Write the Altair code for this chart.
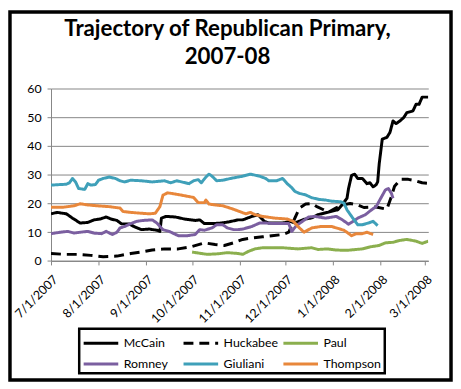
import altair as alt
import pandas as pd

candidates = ["McCain", "Huckabee", "Paul", "Romney", "Giuliani", "Thompson"]
colors = ["#000000", "#000000", "#8BAF4E", "#7B5FA0", "#3FA0B9", "#E8873B"]
dashes = [[1, 0], [10, 6], [1, 0], [1, 0], [1, 0], [1, 0]]
title_lines = ["Trajectory of Republican Primary,", "2007-08"]

mccain_dates = ["2007-07-01", "2007-07-05", "2007-07-11", "2007-07-15", "2007-07-20", "2007-07-25",
                "2007-07-29", "2007-08-02", "2007-08-06", "2007-08-09", "2007-08-13", "2007-08-16",
                "2007-08-21", "2007-08-24", "2007-08-29", "2007-09-03", "2007-09-08", "2007-09-10",
                "2007-09-11", "2007-09-14", "2007-09-20", "2007-09-26", "2007-10-03", "2007-10-06",
                "2007-10-09", "2007-10-14", "2007-10-20", "2007-10-25", "2007-10-31", "2007-11-03",
                "2007-11-09", "2007-11-13", "2007-11-17", "2007-11-20", "2007-11-29", "2007-12-04",
                "2007-12-07", "2007-12-13", "2007-12-18", "2007-12-22", "2007-12-29", "2008-01-04",
                "2008-01-07", "2008-01-10", "2008-01-11", "2008-01-13", "2008-01-15", "2008-01-17",
                "2008-01-20", "2008-01-23", "2008-01-25", "2008-01-27", "2008-01-29", "2008-01-30",
                "2008-01-31", "2008-02-02", "2008-02-05", "2008-02-07", "2008-02-09", "2008-02-11",
                "2008-02-13", "2008-02-16", "2008-02-18", "2008-02-22", "2008-02-24", "2008-02-26",
                "2008-02-28", "2008-03-03"]
mccain_values = [16.4, 16.9, 16.4, 14.9, 13.2, 13.4, 14.3, 14.6, 15.3, 14.6, 14.1, 12.9,
                 12.9, 12.0, 10.9, 11.1, 10.7, 10.3, 14.9, 15.5, 15.3, 14.6, 14.1, 14.3,
                 13.0, 13.0, 13.2, 13.6, 14.3, 14.3, 15.5, 16.1, 13.8, 13.2, 13.2, 13.8,
                 13.2, 14.5, 15.0, 16.1, 17.0, 17.8, 19.7, 21.8, 25.2, 29.8, 30.2, 28.7,
                 28.7, 26.9, 27.2, 25.8, 26.5, 27.5, 33.8, 42.4, 43.0, 44.7, 48.7, 47.8,
                 48.5, 49.9, 51.6, 52.2, 54.5, 54.5, 57.0, 57.0]

huckabee_dates = ["2007-07-01", "2007-07-10", "2007-07-18", "2007-07-27", "2007-08-04", "2007-08-13",
                  "2007-08-22", "2007-08-29", "2007-09-05", "2007-09-13", "2007-09-22", "2007-09-30",
                  "2007-10-09", "2007-10-16", "2007-10-22", "2007-10-28", "2007-11-03", "2007-11-09",
                  "2007-11-16", "2007-11-22", "2007-11-29", "2007-12-03", "2007-12-07", "2007-12-10",
                  "2007-12-14", "2007-12-18", "2007-12-21", "2007-12-25", "2007-12-29", "2008-01-03",
                  "2008-01-07", "2008-01-12", "2008-01-17", "2008-01-21", "2008-01-29", "2008-02-05",
                  "2008-02-08", "2008-02-10", "2008-02-14", "2008-02-19", "2008-02-23", "2008-02-28",
                  "2008-03-03"]
huckabee_values = [2.6, 2.3, 2.3, 1.95, 1.5, 1.7, 2.6, 3.1, 3.8, 4.2, 4.2, 4.9,
                   6.3, 5.7, 5.4, 6.3, 7.5, 8.0, 8.4, 8.8, 9.2, 10.0, 14.9, 18.4,
                   19.8, 20.0, 19.0, 18.0, 17.0, 18.5, 19.5, 20.0, 19.5, 18.6, 18.8, 18.0,
                   22.5, 26.0, 28.4, 28.4, 28.0, 27.2, 27.0]

paul_dates = ["2007-10-01", "2007-10-07", "2007-10-11", "2007-10-18", "2007-10-24", "2007-10-31",
              "2007-11-03", "2007-11-07", "2007-11-11", "2007-11-16", "2007-11-29", "2007-12-09",
              "2007-12-18", "2007-12-22", "2007-12-28", "2008-01-03", "2008-01-10", "2008-01-16",
              "2008-01-20", "2008-01-25", "2008-01-31", "2008-02-04", "2008-02-09", "2008-02-13",
              "2008-02-18", "2008-02-24", "2008-02-28", "2008-03-03"]
paul_values = [3.1, 2.6, 2.3, 2.5, 2.9, 2.6, 2.3, 3.4, 4.2, 4.6, 4.6, 4.2,
               4.6, 4.0, 4.2, 3.8, 3.7, 4.0, 4.2, 4.9, 5.4, 6.3, 6.5, 7.1,
               7.5, 6.9, 6.1, 6.9]

romney_dates = ["2007-07-01", "2007-07-07", "2007-07-12", "2007-07-16", "2007-07-20", "2007-07-25",
                "2007-07-29", "2007-08-03", "2007-08-06", "2007-08-10", "2007-08-13", "2007-08-15",
                "2007-08-18", "2007-08-22", "2007-08-26", "2007-08-30", "2007-09-05", "2007-09-08",
                "2007-09-12", "2007-09-16", "2007-09-22", "2007-09-28", "2007-10-03", "2007-10-06",
                "2007-10-09", "2007-10-14", "2007-10-17", "2007-10-21", "2007-10-24", "2007-10-28",
                "2007-10-31", "2007-11-03", "2007-11-09", "2007-11-14", "2007-11-18", "2007-11-24",
                "2007-12-03", "2007-12-05", "2007-12-08", "2007-12-12", "2007-12-16", "2007-12-20",
                "2007-12-27", "2008-01-03", "2008-01-07", "2008-01-11", "2008-01-14", "2008-01-17",
                "2008-01-22", "2008-01-26", "2008-01-29", "2008-02-01", "2008-02-04", "2008-02-06",
                "2008-02-08", "2008-02-09"]
romney_values = [9.5, 10.0, 10.3, 9.7, 10.0, 10.3, 9.7, 9.5, 10.3, 9.2, 10.0, 11.5,
                 12.0, 13.0, 13.8, 14.1, 14.3, 13.2, 10.9, 10.3, 8.8, 8.8, 9.2, 10.9,
                 10.7, 11.5, 12.6, 12.6, 11.5, 10.9, 10.9, 11.1, 12.0, 13.2, 13.2, 13.0,
                 13.0, 10.3, 12.3, 13.8, 15.3, 15.5, 14.9, 15.5, 14.3, 12.8, 13.8, 14.9,
                 16.1, 17.8, 18.9, 21.8, 24.7, 25.2, 23.5, 21.8]

giuliani_dates = ["2007-07-01", "2007-07-11", "2007-07-13", "2007-07-15", "2007-07-17", "2007-07-19",
                  "2007-07-23", "2007-07-25", "2007-07-27", "2007-07-30", "2007-08-01", "2007-08-04",
                  "2007-08-08", "2007-08-12", "2007-08-15", "2007-08-18", "2007-08-22", "2007-08-29",
                  "2007-09-05", "2007-09-13", "2007-09-17", "2007-09-21", "2007-09-29", "2007-10-02",
                  "2007-10-05", "2007-10-07", "2007-10-10", "2007-10-12", "2007-10-14", "2007-10-17",
                  "2007-10-21", "2007-10-26", "2007-10-31", "2007-11-03", "2007-11-08", "2007-11-14",
                  "2007-11-18", "2007-11-20", "2007-11-25", "2007-11-29", "2007-12-02", "2007-12-05",
                  "2007-12-07", "2007-12-10", "2007-12-14", "2007-12-18", "2007-12-23", "2007-12-27",
                  "2007-12-31", "2008-01-06", "2008-01-08", "2008-01-10", "2008-01-13", "2008-01-17",
                  "2008-01-20", "2008-01-24", "2008-01-27", "2008-01-30"]
giuliani_values = [26.4, 26.7, 27.2, 28.7, 27.5, 25.2, 24.9, 26.9, 26.4, 26.6, 28.1, 28.7,
                   29.2, 28.7, 27.9, 27.5, 28.1, 27.9, 27.5, 27.9, 27.2, 27.9, 26.9, 27.9,
                   28.3, 27.2, 29.2, 30.2, 29.5, 27.9, 28.1, 28.7, 29.2, 29.5, 30.2, 29.5,
                   28.7, 27.9, 27.9, 28.7, 26.9, 25.5, 24.2, 23.5, 23.0, 22.0, 21.4, 21.2,
                   20.8, 20.6, 20.1, 17.8, 15.5, 12.6, 12.6, 13.2, 13.8, 12.3]

thompson_dates = ["2007-07-01", "2007-07-09", "2007-07-16", "2007-07-20", "2007-07-25", "2007-07-31",
                  "2007-08-08", "2007-08-15", "2007-08-17", "2007-08-22", "2007-08-29", "2007-09-03",
                  "2007-09-07", "2007-09-10", "2007-09-12", "2007-09-15", "2007-09-20", "2007-09-27",
                  "2007-10-02", "2007-10-05", "2007-10-09", "2007-10-10", "2007-10-12", "2007-10-16",
                  "2007-10-21", "2007-10-24", "2007-10-29", "2007-11-01", "2007-11-05", "2007-11-08",
                  "2007-11-11", "2007-11-16", "2007-11-24", "2007-12-02", "2007-12-06", "2007-12-09",
                  "2007-12-13", "2007-12-18", "2007-12-24", "2007-12-31", "2008-01-03", "2008-01-08",
                  "2008-01-13", "2008-01-16", "2008-01-20", "2008-01-23", "2008-01-27"]
thompson_values = [18.7, 18.7, 19.2, 19.9, 19.5, 19.2, 18.9, 18.4, 17.2, 16.9, 16.6, 16.4,
                   16.6, 18.9, 22.9, 23.7, 23.3, 22.6, 22.1, 20.3, 20.3, 21.2, 19.8, 19.5,
                   19.2, 18.7, 17.8, 17.2, 16.4, 16.9, 16.1, 15.5, 14.9, 14.6, 13.8, 12.0,
                   10.0, 11.5, 12.0, 12.0, 11.5, 10.7, 8.8, 9.5, 9.5, 10.0, 9.2]

series = {
    "McCain": (mccain_dates, mccain_values),
    "Huckabee": (huckabee_dates, huckabee_values),
    "Paul": (paul_dates, paul_values),
    "Romney": (romney_dates, romney_values),
    "Giuliani": (giuliani_dates, giuliani_values),
    "Thompson": (thompson_dates, thompson_values),
}

rows = []
for name in candidates:
    ds, vs = series[name]
    for d, v in zip(ds, vs):
        rows.append({"candidate": name, "date": d, "value": v})
df = pd.DataFrame(rows)

month_ticks = [(2007, 7), (2007, 8), (2007, 9), (2007, 10), (2007, 11), (2007, 12),
               (2008, 1), (2008, 2), (2008, 3)]
tick_values = [alt.DateTime(year=y, month=m, date=1, utc=True) for y, m in month_ticks]

FONT = "Lato"
W, H = 381.5, 174.4
PAD_L, PAD_T, PAD_R, PAD_B = 43.5, 79.3, 25, 122.3

lines = alt.Chart(df).mark_line(strokeWidth=3, strokeJoin="round", clip=True).encode(
    x=alt.X("date:T", scale=alt.Scale(type="utc",
                                      domain=[alt.DateTime(year=2007, month=7, date=1, utc=True),
                                              alt.DateTime(year=2008, month=3, date=3, utc=True)]),
            axis=alt.Axis(title=None, values=tick_values, format="%-m/%-d/%Y", labelAngle=-45,
                          labelAlign="right", labelBaseline="top", labelPadding=8,
                          labelFontSize=12.5, labelFont=FONT, labelColor="#000000",
                          tickSize=4, tickColor="#868686", domainColor="#868686",
                          grid=False, labelOverlap=False)),
    y=alt.Y("value:Q", scale=alt.Scale(domain=[0, 60]),
            axis=alt.Axis(title=None, values=[0, 10, 20, 30, 40, 50, 60], labelFontSize=12.5,
                          labelFont=FONT, labelColor="#000000", tickSize=4, tickColor="#868686",
                          domainColor="#868686", gridColor="#868686", labelPadding=6)),
    color=alt.Color("candidate:N", scale=alt.Scale(domain=candidates, range=colors),
                    legend=alt.Legend(title=None, orient="none", legendX=28.5, legendY=243,
                                      direction="horizontal", columns=3,
                                      symbolType="M-1,0H2.5", symbolSize=400,
                                      symbolStrokeWidth=3, labelFont=FONT, labelFontSize=12.5,
                                      labelColor="#000000", strokeColor="#000000",
                                      fillColor="#FFFFFF", padding=3, gridAlign="all",
                                      columnPadding=-8, rowPadding=3, labelOffset=19,
                                      labelLimit=120)),
    strokeDash=alt.StrokeDash("candidate:N", scale=alt.Scale(domain=candidates, range=dashes),
                              legend=alt.Legend(title=None)),
    detail="candidate:N",
)

one = pd.DataFrame({"k": [1]})

frame = alt.Chart(one).mark_rect(
    fillOpacity=0, stroke="#000000", strokeWidth=3.5
).encode(
    x=alt.value(-PAD_L + 2), x2=alt.value(W + PAD_R - 2),
    y=alt.value(-PAD_T + 2), y2=alt.value(H + PAD_B - 2),
)

title = alt.Chart(one).mark_text(
    text=title_lines, font=FONT, fontSize=22.5, fontWeight="bold", color="#000000",
    align="center", baseline="alphabetic", lineHeight=28,
).encode(x=alt.value(178.5), y=alt.value(-53))

chart = alt.layer(lines, frame, title).properties(
    width=W, height=H,
    autosize=alt.AutoSizeParams(type="none"),
    padding={"left": PAD_L, "top": PAD_T, "right": PAD_R, "bottom": PAD_B},
).configure_view(stroke=None).configure_legend(strokeWidth=2.5, gridAlign="all")

chart.save("out.html", embed_options={"renderer": "svg", "actions": False})
